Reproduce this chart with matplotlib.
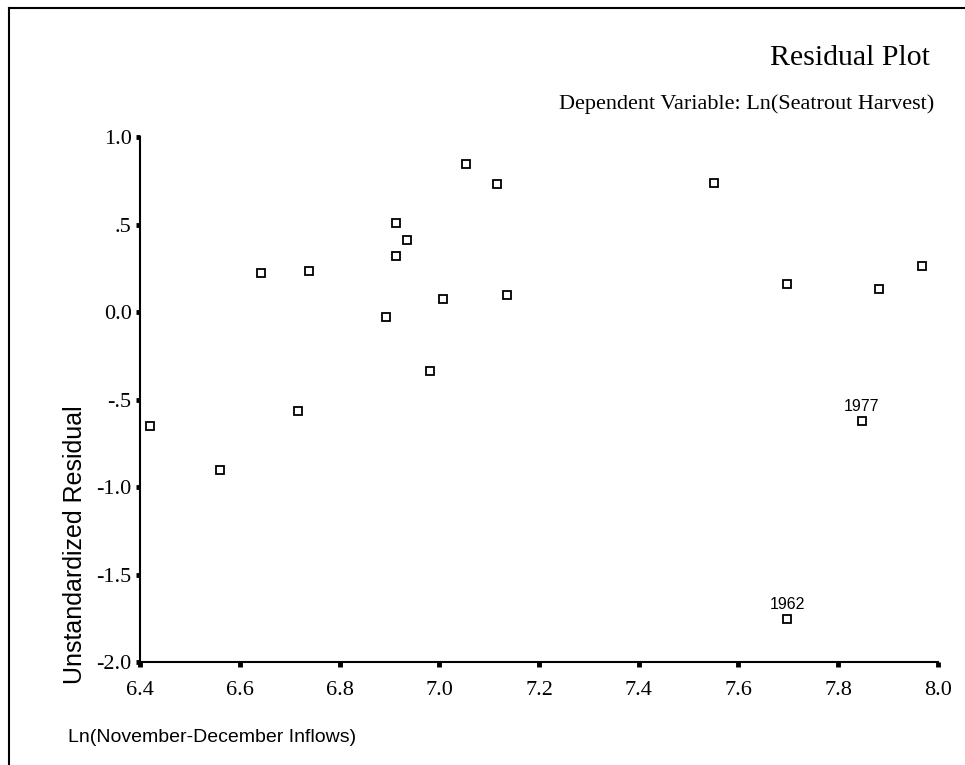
import matplotlib
matplotlib.use("Agg")
import matplotlib.pyplot as plt
from matplotlib.lines import Line2D

# Inflow (log) vs. unstandardized residual
inflows = [6.421, 6.560, 6.642, 6.717, 6.739, 6.893, 6.913, 6.913, 6.935, 6.982,
           7.008, 7.054, 7.115, 7.135, 7.551, 7.697, 7.698, 7.847, 7.882, 7.967]
residuals = [-0.654, -0.904, 0.222, -0.563, 0.237, -0.031, 0.511, 0.319, 0.411, -0.339,
             0.072, 0.844, 0.730, 0.097, 0.739, 0.161, -1.755, -0.624, 0.133, 0.264]

# labelled outliers
outlier_years = ["1962", "1977"]
outlier_x = [7.698, 7.847]
outlier_y = [-1.755, -0.624]

x_ticks = [6.4, 6.6, 6.8, 7.0, 7.2, 7.4, 7.6, 7.8, 8.0]
y_ticks = [1.0, 0.5, 0.0, -0.5, -1.0, -1.5, -2.0]
y_tick_labels = ["1.0", ".5", "0.0", "-.5", "-1.0", "-1.5", "-2.0"]

serif = ["Liberation Serif", "DejaVu Serif"]
sans = ["Liberation Sans", "DejaVu Sans"]

fig = plt.figure(figsize=(9.65, 7.65), dpi=100)
ax = fig.add_axes([0.1451, 0.1346, 0.8269, 0.6863])

ax.plot(inflows, residuals, linestyle="none", marker="s", ms=5.5,
        mfc="white", mec="black", mew=1.3)

for year, xv, yv in zip(outlier_years, outlier_x, outlier_y):
    ax.annotate(year, (xv, yv), xytext=(0, 5), textcoords="offset points",
                ha="center", va="bottom", fontsize=11.5, family=sans)

ax.set_xlim(6.4, 8.0)
ax.set_ylim(-2.0, 1.0)
ax.set_xticks(x_ticks)
ax.set_xticklabels([f"{v:.1f}" for v in x_ticks], family=serif, fontsize=16)
ax.set_yticks(y_ticks)
ax.set_yticklabels(y_tick_labels, family=serif, fontsize=16)

ax.spines["top"].set_visible(False)
ax.spines["right"].set_visible(False)
ax.spines["left"].set_linewidth(1.5)
ax.spines["bottom"].set_linewidth(1.5)
ax.tick_params(axis="x", direction="out", length=3.5, width=3.5, pad=10)
ax.tick_params(axis="y", direction="out", length=3, width=3.5, pad=3)

# titles and axis labels placed like the original
fig.text(0.964, 0.924, "Residual Plot", ha="right", va="center",
         family=serif, fontsize=21.5)
fig.text(0.968, 0.864, "Dependent Variable: Ln(Seatrout Harvest)", ha="right",
         va="center", family=serif, fontsize=16)
fig.text(0.078, 0.288, "Unstandardized Residual", rotation=90, ha="center",
         va="center", family=sans, fontsize=18)
fig.text(0.070, 0.036, "Ln(November-December Inflows)", ha="left",
         va="center", family=sans, fontsize=14)

# page frame (top and left edges)
fig.add_artist(Line2D([0.009, 1.0], [0.989, 0.989], transform=fig.transFigure,
                      color="black", lw=1.5))
fig.add_artist(Line2D([0.009, 0.009], [0.0, 0.989], transform=fig.transFigure,
                      color="black", lw=1.5))

fig.savefig("out.png", dpi=100, facecolor="white")
